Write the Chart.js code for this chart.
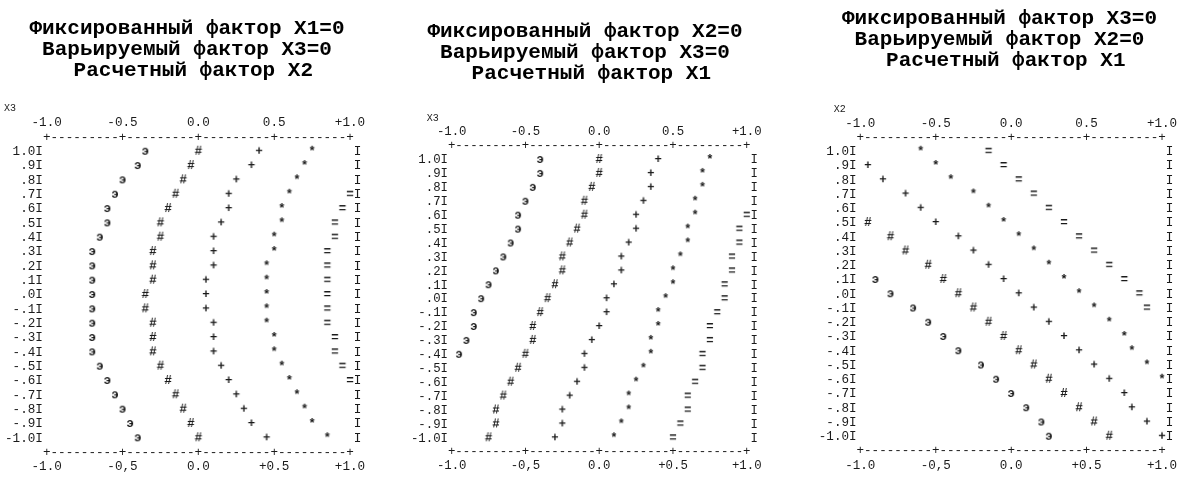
<!DOCTYPE html>
<html>
<head>
<meta charset="utf-8">
<script src="https://cdn.jsdelivr.net/npm/chart.js@4/dist/chart.umd.min.js"></script>
<style>
  body { margin: 0; background: #fff; width: 1182px; height: 478px; position: relative; overflow: hidden; }
  canvas { position: absolute; top: 0; }
</style>
</head>
<body>
<canvas id="c1" width="390" height="478" style="left:0px"></canvas>
<canvas id="c2" width="392" height="478" style="left:390px"></canvas>
<canvas id="c3" width="435" height="478" style="left:782px"></canvas>
<script>
// ---------- data ----------
// rows = varied factor, top to bottom
const rows = [1.0, 0.9, 0.8, 0.7, 0.6, 0.5, 0.4, 0.3, 0.2, 0.1, 0.0,
  -0.1, -0.2, -0.3, -0.4, -0.5, -0.6, -0.7, -0.8, -0.9, -1.0];
const yTickLabels = ['1.0I', '.9I', '.8I', '.7I', '.6I', '.5I', '.4I', '.3I', '.2I', '.1I', '.0I',
  '-.1I', '-.2I', '-.3I', '-.4I', '-.5I', '-.6I', '-.7I', '-.8I', '-.9I', '-1.0I'];
const rightTickLabel = 'I';
const xTopLabels = ['-1.0', '-0.5', '0.0', '0.5', '+1.0'];
const xBottomLabels = ['-1.0', '-0,5', '0.0', '+0.5', '+1.0'];
const symbols = ['э', '#', '+', '*', '='];

// panel 1: X1=0 fixed, X3 varied, X2 computed
const p1Titles = ['Фиксированный фактор X1=0', 'Варьируемый фактор X3=0', ' Расчетный фактор X2'];
const p1Axis = 'X3';
const p1S1 = [-0.35, -0.40, -0.50, -0.55, -0.60, -0.60, -0.65, -0.70, -0.70, -0.70, -0.70,
  -0.70, -0.70, -0.70, -0.70, -0.65, -0.60, -0.55, -0.50, -0.45, -0.40];
const p1S2 = [0.00, -0.05, -0.10, -0.15, -0.20, -0.25, -0.25, -0.30, -0.30, -0.30, -0.35,
  -0.35, -0.30, -0.30, -0.30, -0.25, -0.20, -0.15, -0.10, -0.05, 0.00];
const p1S3 = [0.40, 0.35, 0.25, 0.20, 0.20, 0.15, 0.10, 0.10, 0.10, 0.05, 0.05,
  0.05, 0.10, 0.10, 0.10, 0.15, 0.20, 0.25, 0.30, 0.35, 0.45];
const p1S4 = [0.75, 0.70, 0.65, 0.60, 0.55, 0.55, 0.50, 0.50, 0.45, 0.45, 0.45,
  0.45, 0.45, 0.50, 0.50, 0.55, 0.60, 0.65, 0.70, 0.75, 0.85];
const p1S5 = [null, null, null, 1.00, 0.95, 0.90, 0.90, 0.85, 0.85, 0.85, 0.85,
  0.85, 0.85, 0.90, 0.90, 0.95, 1.00, null, null, null, null];

// panel 2: X2=0 fixed, X3 varied, X1 computed
const p2Titles = ['Фиксированный фактор X2=0', 'Варьируемый фактор X3=0', ' Расчетный фактор X1'];
const p2Axis = 'X3';
const p2S1 = [-0.40, -0.40, -0.45, -0.50, -0.55, -0.55, -0.60, -0.65, -0.70, -0.75, -0.80,
  -0.85, -0.85, -0.90, -0.95, null, null, null, null, null, null];
const p2S2 = [0.00, 0.00, -0.05, -0.10, -0.10, -0.15, -0.20, -0.25, -0.25, -0.30, -0.35,
  -0.40, -0.45, -0.45, -0.50, -0.55, -0.60, -0.65, -0.70, -0.70, -0.75];
const p2S3 = [0.40, 0.35, 0.35, 0.30, 0.25, 0.25, 0.20, 0.15, 0.15, 0.10, 0.05,
  0.05, 0.00, -0.05, -0.10, -0.10, -0.15, -0.20, -0.25, -0.25, -0.30];
const p2S4 = [0.75, 0.70, 0.70, 0.65, 0.65, 0.60, 0.60, 0.55, 0.50, 0.50, 0.45,
  0.40, 0.40, 0.35, 0.35, 0.30, 0.25, 0.20, 0.20, 0.15, 0.10];
const p2S5 = [null, null, null, null, 1.00, 0.95, 0.95, 0.90, 0.90, 0.85, 0.85,
  0.80, 0.75, 0.75, 0.70, 0.70, 0.65, 0.60, 0.60, 0.55, 0.50];

// panel 3: X3=0 fixed, X2 varied, X1 computed
const p3Titles = ['Фиксированный фактор X3=0', 'Варьируемый фактор X2=0', ' Расчетный фактор X1'];
const p3Axis = 'X2';
const p3S1 = [null, null, null, null, null, null, null, null, null, -0.90, -0.80,
  -0.65, -0.55, -0.45, -0.35, -0.20, -0.10, 0.00, 0.10, 0.20, 0.25];
const p3S2 = [null, null, null, null, null, -0.95, -0.80, -0.70, -0.55, -0.45, -0.35,
  -0.25, -0.15, -0.05, 0.05, 0.15, 0.25, 0.35, 0.45, 0.55, 0.65];
const p3S3 = [null, -0.95, -0.85, -0.70, -0.60, -0.50, -0.35, -0.25, -0.15, -0.05, 0.05,
  0.15, 0.25, 0.35, 0.45, 0.55, 0.65, 0.75, 0.80, 0.90, 1.00];
const p3S4 = [-0.60, -0.50, -0.40, -0.25, -0.15, -0.05, 0.05, 0.15, 0.25, 0.35, 0.45,
  0.55, 0.65, 0.75, 0.80, 0.90, 1.00, null, null, null, null];
const p3S5 = [-0.15, -0.05, 0.05, 0.15, 0.25, 0.35, 0.45, 0.55, 0.65, 0.75, 0.85,
  0.90, null, null, null, null, null, null, null, null, null];

// ---------- layout (px) ----------
const FONT = '"Liberation Mono", "DejaVu Sans Mono", monospace';
const ink = '#1a1a1a';

const panels = [
  { id: 'c1', titles: p1Titles, axis: p1Axis, series: [p1S1, p1S2, p1S3, p1S4, p1S5],
    padR: 16, wy: 46.7, wr: 24, titleTop: 18, hTop: 70.7, hBot: 39.7, nameDx: -42.7 },
  { id: 'c2', titles: p2Titles, axis: p2Axis, series: [p2S1, p2S2, p2S3, p2S4, p2S5],
    padR: 2, wy: 61.7, wr: 31.7, titleTop: 21.5, hTop: 75.5, hBot: 39.7, nameDx: -25 },
  { id: 'c3', titles: p3Titles, axis: p3Axis, series: [p3S1, p3S2, p3S3, p3S4, p3S5],
    padR: 0, wy: 78.3, wr: 55, titleTop: 8, hTop: 80.7, hBot: 41.3, nameDx: -26.6 },
];

// glyph used as point style
function glyph(ch, size) {
  const c = document.createElement('canvas');
  c.width = 16; c.height = 20;
  const g = c.getContext('2d');
  g.font = `bold ${size}px ${FONT}`;
  g.fillStyle = ink;
  g.textAlign = 'center';
  g.textBaseline = 'middle';
  g.fillText(ch, 8, 10);
  return c;
}

// "+---------+" frame lines and the axis name
const asciiFrame = {
  id: 'asciiFrame',
  afterDraw(chart, args, opts) {
    const { ctx } = chart;
    const x = chart.scales.x, y = chart.scales.y;
    ctx.save();
    ctx.fillStyle = ink;
    ctx.font = `${opts.size}px ${FONT}`;
    ctx.textAlign = 'center';
    ctx.textBaseline = 'middle';
    [1.1, -1.1].forEach(v => {
      for (let c = 0; c <= 40; c++) {
        ctx.fillText(c % 10 === 0 ? '+' : '-', x.getPixelForValue(-1 + c * 0.05), y.getPixelForValue(v));
      }
    });
    ctx.font = `10px ${FONT}`;
    ctx.textAlign = 'left';
    ctx.fillText(opts.name, x.left + opts.nameDx, y.getPixelForValue(1.3));
    ctx.restore();
  }
};

panels.forEach(p => {
  const canvas = document.getElementById(p.id);
  const W = canvas.width, H = canvas.height;
  const plotW = W - p.padR - p.wy - p.wr;
  const plotH = H - p.titleTop - 63 - p.hTop - p.hBot;
  const charW = plotW / 40;
  const rowH = plotH / 20;
  const fs = charW / 0.6;
  const tickFont = { family: FONT, size: fs, lineHeight: 1.2 };
  const xPad = 2 * rowH - fs * 1.2 / 2;
  const noGrid = { display: false, drawTicks: false };

  const xAxis = (pos, labels, h) => ({
    type: 'linear', position: pos, min: -1, max: 1,
    grid: noGrid, border: { display: false },
    ticks: { stepSize: 0.5, padding: xPad, maxRotation: 0, color: ink, font: tickFont,
      callback: v => labels[Math.round((v + 1) * 2)] },
    afterFit: s => { s.height = h; }
  });
  const yAxis = (pos, cb, w) => ({
    type: 'linear', position: pos, min: -1, max: 1,
    grid: noGrid, border: { display: false },
    ticks: { stepSize: 0.1, autoSkip: false, padding: charW / 2, color: ink, font: tickFont, callback: cb },
    afterFit: s => { s.width = w; }
  });

  new Chart(canvas, {
    type: 'scatter',
    data: {
      datasets: p.series.map((xs, i) => ({
        data: rows.map((r, j) => ({ x: xs[j], y: r })).filter(d => d.x !== null),
        pointStyle: glyph(symbols[i], fs),
        radius: 4, hoverRadius: 4, clip: false
      }))
    },
    options: {
      responsive: false, animation: false, events: [],
      layout: { padding: { left: 0, right: p.padR, top: 0, bottom: 0 } },
      plugins: {
        legend: { display: false }, tooltip: { enabled: false },
        title: { display: true, text: p.titles, color: '#000',
          font: { family: FONT, size: 21, weight: 'bold', lineHeight: 1 },
          padding: { top: p.titleTop, bottom: 0 } },
        asciiFrame: { size: fs, name: p.axis, nameDx: p.nameDx }
      },
      scales: {
        x: xAxis('bottom', xBottomLabels, p.hBot),
        xTop: xAxis('top', xTopLabels, p.hTop),
        y: yAxis('left', v => yTickLabels[Math.round((1 - v) * 10)], p.wy),
        yRight: yAxis('right', () => rightTickLabel, p.wr)
      }
    },
    plugins: [asciiFrame]
  });
});
</script>
</body>
</html>
